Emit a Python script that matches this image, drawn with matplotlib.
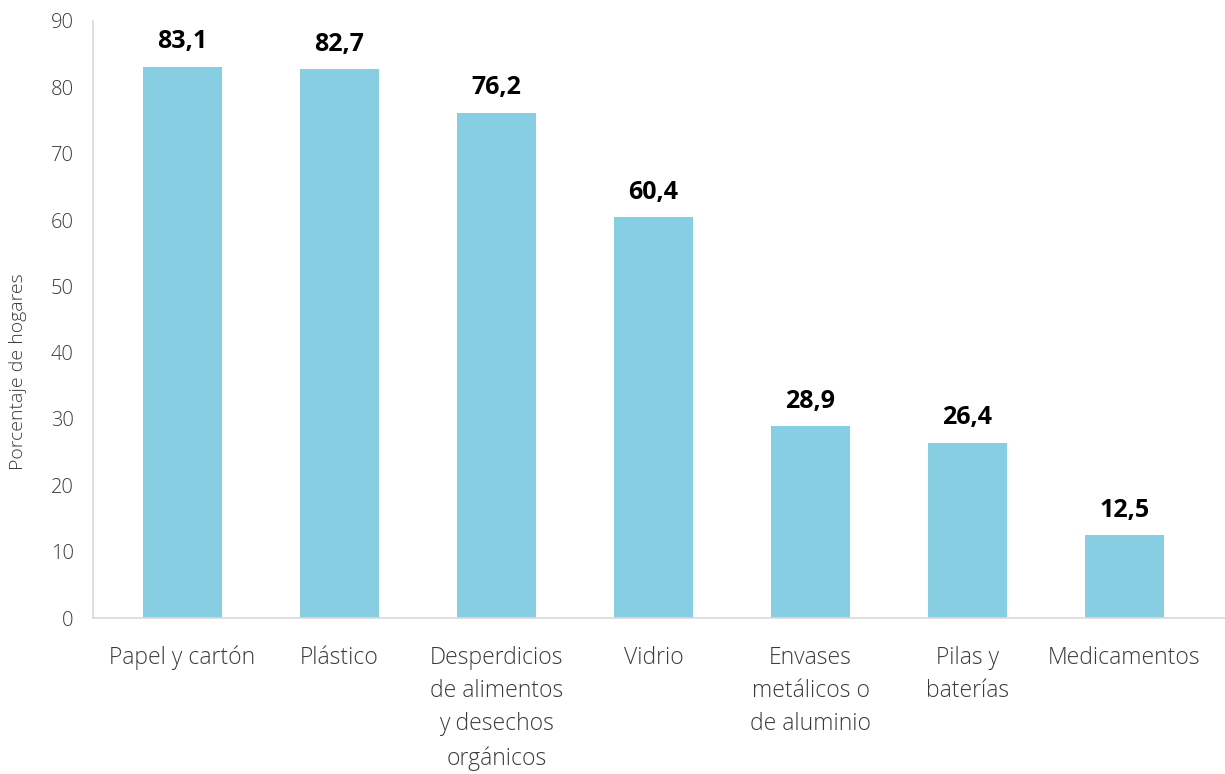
import matplotlib
matplotlib.use('Agg')
import matplotlib.pyplot as plt

# ── DATA ──────────────────────────────────────────────────────
categories = [
    "Papel y cartón",
    "Plástico",
    "Desperdicios\nde alimentos\ny desechos\norgánicos",
    "Vidrio",
    "Envases\nmetálicos o\nde aluminio",
    "Pilas y\nbaterías",
    "Medicamentos",
]
values = [83.1, 82.7, 76.2, 60.4, 28.9, 26.4, 12.5]
value_labels = ["83,1", "82,7", "76,2", "60,4", "28,9", "26,4", "12,5"]
y_ticks = [0, 10, 20, 30, 40, 50, 60, 70, 80, 90]

BAR_COLOR = "#87CEE3"
GRID_GRAY = "#D9D9D9"
TEXT_GRAY = "#3A3A3A"

plt.rcParams['font.family'] = ['Open Sans', 'DejaVu Sans']

fig = plt.figure(figsize=(12.25, 7.74), dpi=100)
ax = fig.add_axes([93 / 1225, 1 - 618 / 774, (1225 - 93) / 1225, (618 - 21) / 774])

x = list(range(len(categories)))
ax.bar(x, values, width=0.503, color=BAR_COLOR, zorder=2)

# bold value labels just above each bar
for xi, v, lab in zip(x, values, value_labels):
    ax.annotate(lab, (xi, v), xytext=(0, 9), textcoords='offset points',
                ha='center', va='bottom', fontsize=18, fontweight='bold',
                color='black')

ax.set_xlim(-0.57, 6.64)
ax.set_ylim(0, 90)
ax.set_yticks(y_ticks)
ax.set_yticklabels([str(t) for t in y_ticks], fontsize=14.5, color=TEXT_GRAY,
                   fontweight='light')
ax.set_xticks(x)
ax.set_xticklabels(categories, fontsize=16.5, color=TEXT_GRAY, fontweight='light',
                   linespacing=1.52, va='top')
ax.tick_params(axis='both', length=0)
ax.tick_params(axis='x', pad=20)
ax.tick_params(axis='y', pad=14)

for side in ['top', 'right']:
    ax.spines[side].set_visible(False)
for side in ['left', 'bottom']:
    ax.spines[side].set_color(GRID_GRAY)
    ax.spines[side].set_linewidth(1.2)

fig.text(18 / 1225, 1 - 372 / 774, "Porcentaje de hogares", rotation=90,
         ha='center', va='center', fontsize=14, color=TEXT_GRAY,
         fontweight='light')

fig.savefig("out.png", dpi=100)
